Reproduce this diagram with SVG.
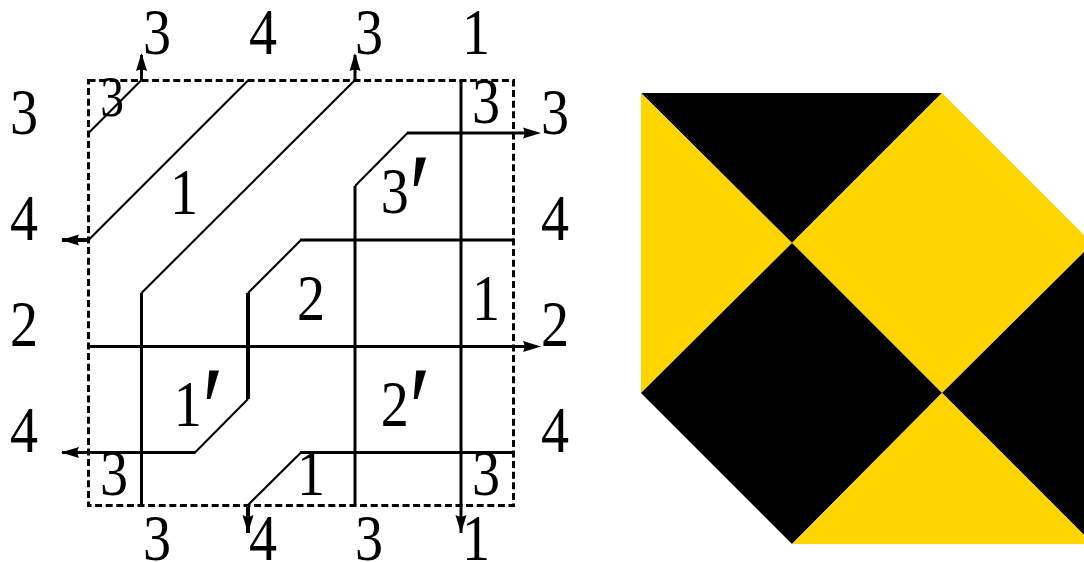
<svg xmlns="http://www.w3.org/2000/svg" width="1084" height="562" viewBox="0 0 1084 562">
<style>
.t{font-family:"Liberation Serif",serif;font-size:66px;fill:#000;text-anchor:middle}
.p{font-size:120px}
.w{fill:none;stroke:#000;stroke-width:2.1}
.h{fill:none;stroke:#000;stroke-width:3}
.b{fill:none;stroke:#000;stroke-width:4}
.d{fill:none;stroke:#000;stroke-width:3;stroke-dasharray:7 3.6}
.a{fill:#000}
.y{fill:#ffd500}
.k{fill:#000}
</style>
<rect width="1084" height="562" fill="#fff"/>
<g id="frame"><rect class="d" x="88.500" y="80.500" width="425" height="425"/></g>
<g id="connectors">
<path class="w" d="M88.500 133 L141.500 80"/>
<path class="w" d="M88.500 240 L248 80.500"/>
<path class="w" d="M141.500 293 L355 80"/>
<path class="w" d="M355 186 L407.500 133"/>
<path class="w" d="M301 240 L248 293"/>
<path class="w" d="M248 399 L195 452.500"/>
<path class="w" d="M301 452.500 L248 505"/>
<path class="h" d="M141.500 80 V55"/>
<path class="h" d="M355 80 V55"/>
<path class="h" d="M141.500 505 V293"/>
<path class="h" d="M355 505 V186"/>
<path class="h" d="M407 133 H530"/>
<path class="h" d="M461 80 V533"/>
<path class="h" d="M514 240 H300"/>
<path class="b" d="M248 293 V399"/>
<path class="h" d="M195.500 452.500 H62"/>
<path class="h" d="M88.500 346.500 H530"/>
<path class="h" d="M514 452.500 H300"/>
<path class="b" d="M248 505 V533"/>
<path class="b" d="M88.500 240 H62"/>
<path class="a" d="M141.500 53 L147 71 Q141.500 68 136 71 Z"/>
<path class="a" d="M355 53 L360.500 71 Q355 68 349.500 71 Z"/>
<path class="a" d="M541 133 L523 127.500 Q526 133 523 138.500 Z"/>
<path class="a" d="M541 346.500 L523 341 Q526 346.500 523 352 Z"/>
<path class="a" d="M61 240 L79 234.500 Q76 240 79 245.500 Z"/>
<path class="a" d="M61 452.500 L79 447 Q76 452.500 79 458 Z"/>
<path class="a" d="M248 533 L242.500 515 Q248 518 253.500 515 Z"/>
<path class="a" d="M461 533 L455.500 515 Q461 518 466.500 515 Z"/>
</g>
<g id="labels">
<text class="t" transform="translate(157 54) scale(.85 1)">3</text><text class="t" transform="translate(263 54) scale(.85 1)">4</text><text class="t" transform="translate(369 54) scale(.85 1)">3</text><text class="t" transform="translate(476 54) scale(.85 1)">1</text>
<text class="t" transform="translate(24 134) scale(.85 1)">3</text><text class="t" transform="translate(24 240) scale(.85 1)">4</text><text class="t" transform="translate(24 346) scale(.85 1)">2</text><text class="t" transform="translate(24 452) scale(.85 1)">4</text>
<text class="t" transform="translate(555 134) scale(.85 1)">3</text><text class="t" transform="translate(555 240) scale(.85 1)">4</text><text class="t" transform="translate(555 346) scale(.85 1)">2</text><text class="t" transform="translate(555 452) scale(.85 1)">4</text>
<text class="t" transform="translate(157 560) scale(.85 1)">3</text><text class="t" transform="translate(263 560) scale(.85 1)">4</text><text class="t" transform="translate(369 560) scale(.85 1)">3</text><text class="t" transform="translate(476 560) scale(.85 1)">1</text>
<text class="t" transform="translate(112 116) scale(.72 .86)">3</text><text class="t" transform="translate(184 214) scale(.85 1)">1</text><text class="t" transform="translate(486 123) scale(.85 1)">3</text>
<text class="t" transform="translate(406 213) scale(.85 1)">3<tspan class="p" dy="24">′</tspan></text>
<text class="t" transform="translate(199 426) scale(.85 1)">1<tspan class="p" dy="24">′</tspan></text>
<text class="t" transform="translate(406 426) scale(.85 1)">2<tspan class="p" dy="24">′</tspan></text>
<text class="t" transform="translate(311 320) scale(.85 1)">2</text><text class="t" transform="translate(486 320) scale(.85 1)">1</text>
<text class="t" transform="translate(114 495) scale(.85 1)">3</text><text class="t" transform="translate(311 495) scale(.85 1)">1</text><text class="t" transform="translate(486 495) scale(.85 1)">3</text>
</g>
<g id="panel">
<polygon class="k" points="641,93 942,93 792,243"/>
<polygon class="y" points="641,93 792,243 641,393"/>
<polygon class="y" points="942,93 1084,235 1084,252 942,393 792,243"/>
<polygon class="k" points="792,243 942,393 792,544 641,393"/>
<polygon class="k" points="942,393 1084,252 1084,535"/>
<polygon class="y" points="942,393 1084,535 1084,544 792,544"/>
</g>
</svg>
